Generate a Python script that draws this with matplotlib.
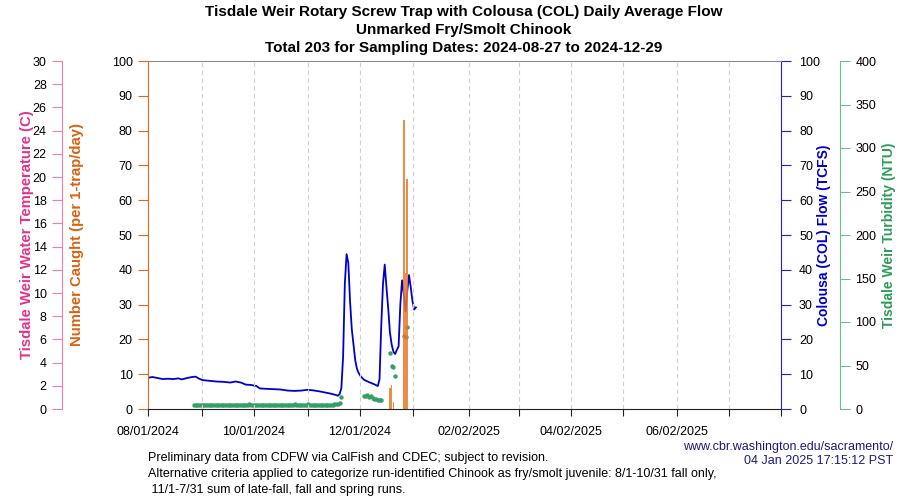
import numpy as np
import pandas as pd
import matplotlib
matplotlib.use("Agg")
import matplotlib.pyplot as plt

plt.rcParams['font.family'] = ['Liberation Sans', 'DejaVu Sans']

# colusa daily average flow (TCFS)
flow_dates = ['2024-08-01', '2024-08-03', '2024-08-06', '2024-08-09', '2024-08-12', '2024-08-15',
              '2024-08-18', '2024-08-20', '2024-08-23', '2024-08-26', '2024-08-28', '2024-08-30',
              '2024-09-01', '2024-09-05', '2024-09-09', '2024-09-13', '2024-09-17', '2024-09-20',
              '2024-09-23', '2024-09-26', '2024-09-29', '2024-10-02', '2024-10-04', '2024-10-08',
              '2024-10-12', '2024-10-16', '2024-10-20', '2024-10-24', '2024-10-28', '2024-10-31',
              '2024-11-03', '2024-11-07', '2024-11-11', '2024-11-14', '2024-11-17', '2024-11-18',
              '2024-11-19', '2024-11-20', '2024-11-21', '2024-11-22', '2024-11-23', '2024-11-24',
              '2024-11-25', '2024-11-26', '2024-11-27', '2024-11-28', '2024-11-29', '2024-11-30',
              '2024-12-01', '2024-12-03', '2024-12-06', '2024-12-09', '2024-12-11', '2024-12-12',
              '2024-12-13', '2024-12-14', '2024-12-15', '2024-12-16', '2024-12-17', '2024-12-18',
              '2024-12-19', '2024-12-20', '2024-12-21', '2024-12-22', '2024-12-23', '2024-12-24',
              '2024-12-25', '2024-12-26', '2024-12-27', '2024-12-28', '2024-12-29', '2024-12-30',
              '2024-12-31', '2025-01-01', '2025-01-02']
flow_vals = [9.0, 9.2, 8.9, 8.6, 8.7, 8.6,
             8.8, 8.5, 8.9, 9.2, 9.3, 8.7,
             8.3, 8.1, 7.9, 7.8, 7.6, 7.9,
             7.6, 7.0, 6.9, 6.6, 5.9, 5.8,
             5.7, 5.6, 5.3, 5.2, 5.3, 5.5,
             5.4, 5.1, 4.7, 4.4, 4.0, 3.8,
             4.3, 6.0, 15.0, 36.0, 44.5, 42.0,
             31.0, 23.0, 18.5, 14.0, 11.5, 10.3,
             9.5, 8.4, 7.7, 7.1, 6.6, 8.5,
             24.0, 36.0, 41.5, 35.0, 29.0, 22.0,
             18.5, 16.5, 15.8, 17.0, 18.0, 30.0,
             37.0, 33.0, 28.0, 34.0, 38.5, 35.0,
             31.0, 28.6, 29.2]

# turbidity (NTU), daily while sampling
turb_fall_start, turb_fall_end = '2024-08-27', '2024-11-20'
turb_fall = [4.6, 4.8, 4.5, 4.7, 4.6,
             4.5, 4.7, 4.6, 4.8, 4.4, 4.6, 4.7, 4.5, 4.8, 4.6, 4.5, 4.7, 4.9, 4.6, 4.5,
             4.8, 4.7, 4.6, 4.5, 4.7, 4.9, 4.6, 4.8, 4.7, 4.5, 4.6, 4.8, 5.2, 4.7, 4.6,
             4.8, 4.7, 4.9, 4.6, 4.8, 5.0, 4.7, 4.9, 4.8, 4.6, 4.9, 5.1, 4.8, 4.7, 5.0,
             4.9, 4.8, 5.1, 4.9, 4.7, 5.0, 4.8, 4.9, 5.2, 4.8, 4.7, 5.0, 4.9, 5.1, 4.8, 4.9,
             5.6, 5.0, 4.8, 4.9, 5.1, 4.8, 4.7, 5.0, 4.9, 4.8, 4.6, 4.7, 4.9, 4.8, 5.0,
             5.2, 5.4, 5.8, 6.8, 13.4]
turb_dec_dates = ['2024-12-03', '2024-12-04', '2024-12-05', '2024-12-06', '2024-12-07', '2024-12-08',
                  '2024-12-09', '2024-12-10', '2024-12-11', '2024-12-12', '2024-12-13',
                  '2024-12-18', '2024-12-19', '2024-12-20', '2024-12-21',
                  '2024-12-26', '2024-12-27', '2024-12-28']
turb_dec = [15.0, 15.4, 15.6, 14.2, 15.0, 13.2,
            12.0, 11.0, 10.6, 10.4, 10.3,
            64.0, 49.0, 48.0, 38.0,
            84.0, 83.0, 94.0]

# number caught per day
catch_dates = ['2024-12-18', '2024-12-19', '2024-12-20', '2024-12-26', '2024-12-27', '2024-12-28']
catch_vals = [6, 7, 2, 83, 39, 66]

tick_dates = ['2024-08-01', '2024-09-01', '2024-10-01', '2024-11-01', '2024-12-01', '2025-01-01',
              '2025-02-02', '2025-03-03', '2025-04-02', '2025-05-02', '2025-06-02', '2025-07-02',
              '2025-08-01']
tick_labels = ['08/01/2024', '', '10/01/2024', '', '12/01/2024', '',
               '02/02/2025', '', '04/02/2025', '', '06/02/2025', '', '']

noon = pd.Timedelta(hours=12)
c_pink, c_pink_ax = '#e0338a', '#f07cb4'
c_orange, c_orange_ax, c_bar = '#d9620f', '#dd6a1a', '#e8782a'
c_blue = '#0000cc'
c_green, c_green_ax = '#2e9b5b', '#6cbf8a'

fig = plt.figure(figsize=(9, 5), dpi=100)
ax = fig.add_axes([148/900, 1-409/500, 633/900, 348/500])
ax_temp = ax.twinx()
ax_turb = ax.twinx()
ax_flow = ax.twinx()
ax.set_zorder(ax_flow.get_zorder() + 1)
ax.patch.set_visible(False)

# flow
fd = pd.to_datetime(flow_dates) + noon
ax_flow.plot(fd, flow_vals, color=c_blue, lw=1.3)
ax_flow.set_ylim(0, 100)
ax_flow.set_yticks(np.arange(0, 101, 10))

# turbidity
td = list(pd.date_range(turb_fall_start, turb_fall_end) + noon) + list(pd.to_datetime(turb_dec_dates) + noon)
ax_turb.scatter(td, turb_fall + turb_dec, s=10, color='#35a065', linewidths=0)
ax_turb.set_ylim(0, 400)
ax_turb.set_yticks(np.arange(0, 401, 50))

# catch bars
cd = pd.to_datetime(catch_dates) + noon
ax.bar(cd, catch_vals, width=0.9, color=c_bar, alpha=0.85)
ax.set_ylim(0, 100)
ax.set_yticks(np.arange(0, 101, 10))

ax_temp.set_ylim(0, 30)
ax_temp.set_yticks(np.arange(0, 31, 2))

ax.set_xlim(pd.Timestamp('2024-08-01'), pd.Timestamp('2025-08-01'))
ax.set_xticks(pd.to_datetime(tick_dates))
ax.set_xticklabels(tick_labels)
ax.grid(axis='x', color='#cfcfcf', linestyle=(0, (4, 3)), lw=0.8)

# spines
for a in (ax_temp, ax_turb, ax_flow):
    for s in ('top', 'bottom', 'left', 'right'):
        a.spines[s].set_visible(False)
ax.spines['right'].set_visible(False)
ax.spines['top'].set_color('#8c8c8c')
ax.spines['bottom'].set_color('#222222')
ax.spines['left'].set_color(c_orange_ax)

ax_flow.spines['right'].set_visible(True)
ax_flow.spines['right'].set_color('#2020dd')

ax_turb.spines['right'].set_visible(True)
ax_turb.spines['right'].set_position(('axes', (840-148)/633))
ax_turb.spines['right'].set_color(c_green_ax)

ax_temp.spines['left'].set_visible(True)
ax_temp.spines['left'].set_position(('axes', (62-148)/633))
ax_temp.spines['left'].set_color(c_pink_ax)
ax_temp.yaxis.set_ticks_position('left')
ax_temp.yaxis.set_label_position('left')

fs = 9
ax.tick_params(axis='x', length=5, width=0.8, pad=7, labelsize=fs, color='#222222')
ax.tick_params(axis='y', length=7, width=0.8, pad=4, labelsize=fs, color=c_orange_ax)
ax_flow.tick_params(axis='y', length=7, width=0.8, pad=6, labelsize=fs, color='#2020dd')
ax_turb.tick_params(axis='y', length=7, width=0.8, pad=4, labelsize=fs, color=c_green_ax)
ax_temp.tick_params(axis='y', length=7, width=0.8, pad=4, labelsize=fs, color=c_pink_ax)

ax.set_ylabel('Number Caught (per 1-trap/day)', color=c_orange, fontsize=10.7, fontweight='bold')
ax.yaxis.set_label_coords((84-148)/633, 0.5)
ax_temp.set_ylabel('Tisdale Weir Water Temperature (C)', color=c_pink, fontsize=10.7, fontweight='bold')
ax_temp.yaxis.set_label_coords((34-148)/633, 0.5)
ax_flow.set_ylabel('Colousa (COL) Flow (TCFS)', color=c_blue, fontsize=10, fontweight='bold')
ax_flow.yaxis.set_label_coords((817-148)/633, 0.5)
ax_turb.set_ylabel('Tisdale Weir Turbidity (NTU)', color=c_green, fontsize=10, fontweight='bold')
ax_turb.yaxis.set_label_coords((882-148)/633, 0.5)

# titles
tx = 464/900
fig.text(tx, 1-12/500, 'Tisdale Weir Rotary Screw Trap with Colousa (COL) Daily Average Flow',
         ha='center', va='center', fontsize=11, fontweight='bold')
fig.text(tx, 1-30/500, 'Unmarked Fry/Smolt Chinook', ha='center', va='center', fontsize=11, fontweight='bold')
fig.text(tx, 1-48/500, 'Total 203 for Sampling Dates: 2024-08-27 to 2024-12-29',
         ha='center', va='center', fontsize=11, fontweight='bold')

# footer
ff = 9
fig.text(893/900, 1-447/500, 'www.cbr.washington.edu/sacramento/', ha='right', va='center',
         fontsize=ff, color='#1a1a80')
fig.text(893/900, 1-461/500, '04 Jan 2025 17:15:12 PST', ha='right', va='center',
         fontsize=ff, color='#1a1a80')
fig.text(148/900, 1-458/500, 'Preliminary data from CDFW via CalFish and CDEC; subject to revision.',
         ha='left', va='center', fontsize=ff)
fig.text(148/900, 1-474/500, 'Alternative criteria applied to categorize run-identified Chinook as '
         'fry/smolt juvenile: 8/1-10/31 fall only,', ha='left', va='center', fontsize=ff)
fig.text(148/900, 1-490/500, ' 11/1-7/31 sum of late-fall, fall and spring runs.',
         ha='left', va='center', fontsize=ff)

fig.savefig('out.png', dpi=100, facecolor='white')
